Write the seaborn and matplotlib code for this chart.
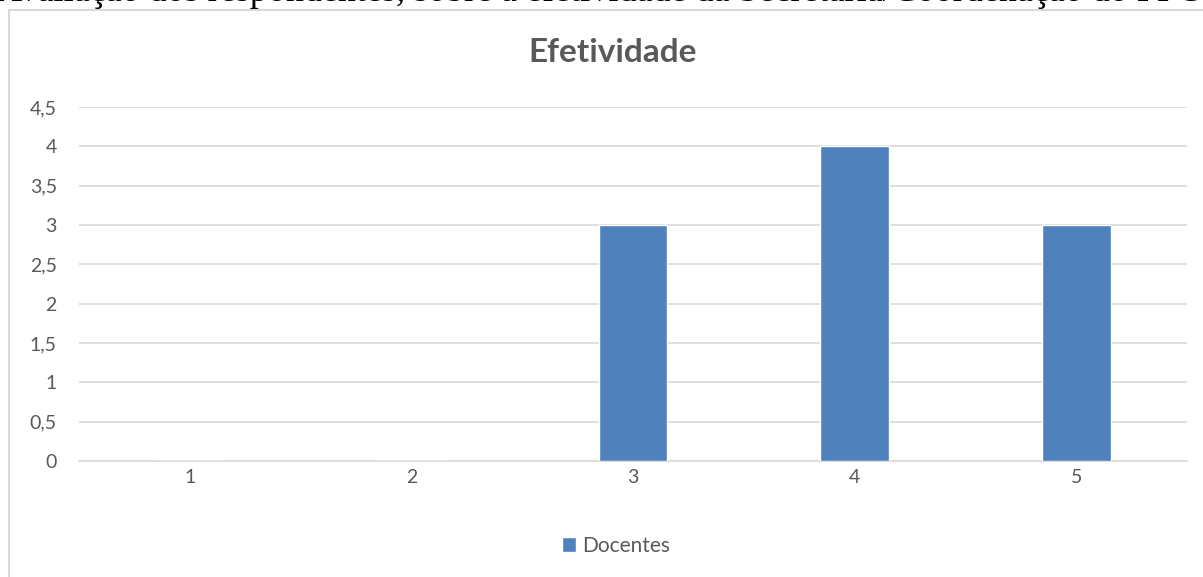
import matplotlib
matplotlib.use("Agg")
import matplotlib.pyplot as plt
import matplotlib.patches as mpatches
import seaborn as sns
import pandas as pd

# dados
categorias = ["1", "2", "3", "4", "5"]
docentes = [0, 0, 3, 4, 3]
yticks = [0, 0.5, 1, 1.5, 2, 2.5, 3, 3.5, 4, 4.5]
ylabels = ["0", "0,5", "1", "1,5", "2", "2,5", "3", "3,5", "4", "4,5"]

df = pd.DataFrame({"Nota": categorias, "Docentes": docentes})

sns.set_theme(style="white")
plt.rcParams["font.family"] = ["Lato", "DejaVu Sans"]

W, H = 1203, 577
fig = plt.figure(figsize=(W / 100, H / 100), dpi=100)
ax = fig.add_axes([79 / W, 1 - 461 / H, (1187 - 79) / W, (461 - 107) / H])

sns.barplot(data=df, x="Nota", y="Docentes", color="#4f81bd", width=0.31,
            saturation=1, label="Docentes", ax=ax, zorder=3)

ax.set_ylim(0, 4.5)
ax.set_yticks(yticks)
ax.set_yticklabels(ylabels)
ax.set_xlim(-0.5, 4.5)
ax.grid(axis="y", color="#d9d9d9", linewidth=1.2, zorder=0)
ax.set_axisbelow(True)
for s in ["top", "right", "left"]:
    ax.spines[s].set_visible(False)
ax.spines["bottom"].set_color("#d9d9d9")
ax.spines["bottom"].set_linewidth(1.2)
ax.tick_params(axis="y", length=0, pad=16, labelsize=14, labelcolor="#595959")
ax.tick_params(axis="x", length=0, pad=6, labelsize=14, labelcolor="#595959")
ax.set_xlabel("")
ax.set_ylabel("")

ax.set_title("Efetividade", fontsize=24, fontweight="bold", color="#595959",
             x=(613 - 79) / (1187 - 79), y=1 + (107 - 53) / (461 - 107),
             va="center", pad=0)

leg = ax.legend(loc="center", bbox_to_anchor=(616 / W, 1 - 546 / H),
                bbox_transform=fig.transFigure, frameon=False, fontsize=15,
                handlelength=0.7, handleheight=0.7, handletextpad=0.3)
for t in leg.get_texts():
    t.set_color("#595959")

# moldura do gráfico
fig.patches.append(mpatches.Rectangle((8.5 / W, -0.05), 1.1, 1 - 9.5 / H + 0.05,
                                      transform=fig.transFigure, fill=False,
                                      edgecolor="#d9d9d9", linewidth=1.5))

# linha de texto cortada no topo
fig.text(-0.003, 1 - 1 / H,
         "Avaliação dos respondentes, sobre a efetividade da Secretaria/Coordenação do PPGH.",
         fontsize=26, family=["Liberation Serif", "DejaVu Serif"], color="black",
         va="baseline", ha="left")

fig.savefig("out.png", dpi=100)
